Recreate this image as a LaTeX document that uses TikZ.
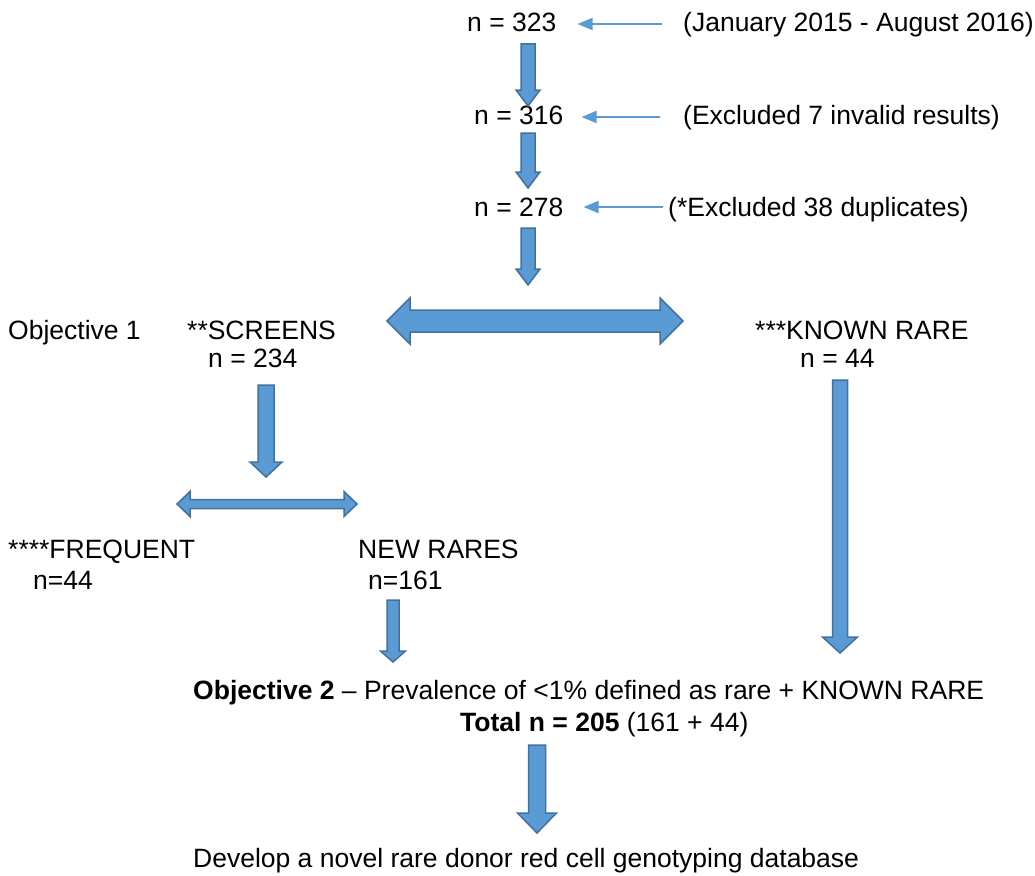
\documentclass[tikz,border=0pt]{standalone}
\usepackage{fontspec}
\setmainfont{Liberation Sans}
\usetikzlibrary{arrows.meta}
\definecolor{blkfill}{HTML}{5B9BD5}
\definecolor{blkline}{HTML}{41719C}
\tikzset{
  txt/.style={anchor=base west,inner sep=0pt,font=\fontsize{26.5}{32}\selectfont},
  blk/.style={fill=blkfill,draw=blkline,line width=1.5pt,line join=miter},
  thin/.style={draw=blkfill,line width=2pt,-{Triangle[length=15pt,width=12pt]}}
}
\newcommand{\blkdown}[6]{%
  \draw[blk] (#1-#4,#2) -- (#1+#4,#2) -- (#1+#4,#3-#6) -- (#1+#5,#3-#6) -- (#1,#3)
    -- (#1-#5,#3-#6) -- (#1-#4,#3-#6) -- cycle;}
\newcommand{\blkdouble}[6]{%
  \draw[blk] (#1,#3) -- (#1+#6,#3-#5) -- (#1+#6,#3-#4) -- (#2-#6,#3-#4) -- (#2-#6,#3-#5)
    -- (#2,#3) -- (#2-#6,#3+#5) -- (#2-#6,#3+#4) -- (#1+#6,#3+#4) -- (#1+#6,#3+#5) -- cycle;}
\begin{document}
\begin{tikzpicture}[x=1pt,y=-1pt]
\useasboundingbox (0,0) rectangle (1035,875);
% top chain
\node[txt] (n323) at (467,31.5) {n = 323};
\node[txt] (jan) at (683,31.5) {(January 2015 - August 2016)};
\node[txt] (n316) at (474,124.5) {n = 316};
\node[txt] (excl7) at (683,124.5) {(Excluded 7 invalid results)};
\node[txt] (n278) at (474,216.5) {n = 278};
\node[txt] (excl38) at (668,216.5) {(*Excluded 38 duplicates)};
\draw[thin,shorten <=21pt,shorten >=21pt] (jan.west|-0,24) coordinate (j0) (j0) -- (n323.east|-j0);
\draw[thin,shorten <=23pt,shorten >=18pt] (excl7.west|-0,117) coordinate (e0) (e0) -- (n316.east|-e0);
\draw[thin,shorten <=5pt,shorten >=20pt] (excl38.west|-0,207) coordinate (d0) (d0) -- (n278.east|-d0);
\blkdown{528}{44}{106}{7}{12}{16}
\blkdown{528}{133}{188}{7}{12}{16}
\blkdown{528}{228}{285}{7}{12}{16}
% split
\blkdouble{387}{683}{321}{11}{23}{23}
\node[txt] (obj1) at (8,339.5) {Objective 1};
\node[txt] (scr) at (187,339.5) {**SCREENS};
\node[txt] (n234) at (208,367.5) {n = 234};
\node[txt] (known) at (755,339.5) {***KNOWN RARE};
\node[txt] (n44k) at (800,367.5) {n = 44};
\blkdown{266}{385}{477}{8}{16}{15}
\blkdouble{177}{357}{504}{4.5}{12.5}{13}
\node[txt] (freq) at (8,558.5) {****FREQUENT};
\node[txt] (n44f) at (33,589.5) {n=44};
\node[txt] (newr) at (358,558.5) {NEW RARES};
\node[txt] (n161) at (368,589.5) {n=161};
\blkdown{393}{600}{662}{6}{12.5}{11}
\blkdown{840}{380}{653}{7.5}{17.5}{16}
% objective 2
\node[txt] (obj2) at (193,699.5) {\textbf{Objective 2} -- Prevalence of <1\% defined as rare + KNOWN RARE};
\node[txt] (total) at (460,731.5) {\textbf{Total n = 205} (161 + 44)};
\blkdown{537}{745}{833}{8.5}{19.5}{20}
\node[txt] (dev) at (193,867.5) {Develop a novel rare donor red cell genotyping database};
\end{tikzpicture}
\end{document}
